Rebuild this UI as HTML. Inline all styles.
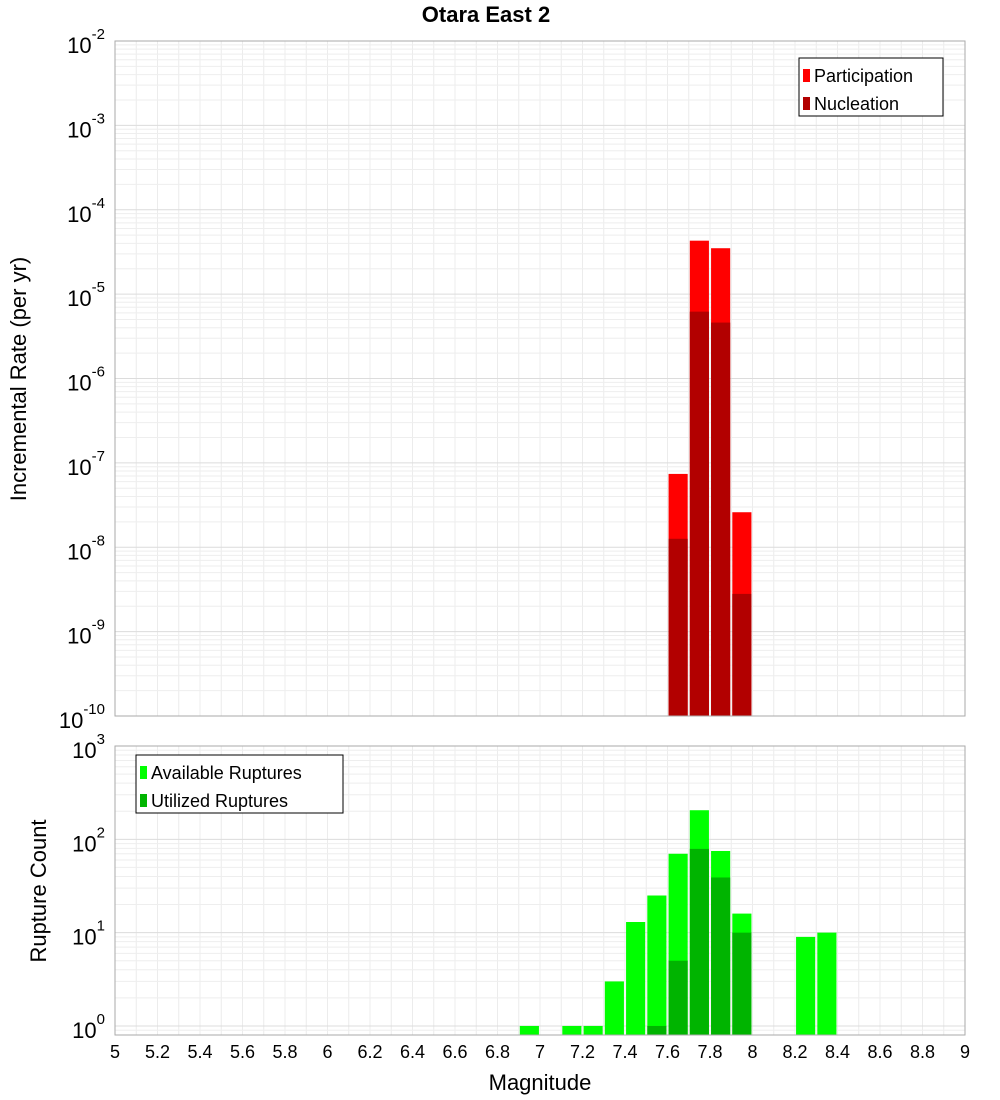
<!DOCTYPE html>
<html><head><meta charset="utf-8"><style>
body{margin:0;background:#fff;}
svg{display:block;font-family:"Liberation Sans","DejaVu Sans",sans-serif;}
</style></head><body>
<svg id="c" width="1000" height="1100"></svg>
<script>
const xTicks=[5,5.2,5.4,5.6,5.8,6,6.2,6.4,6.6,6.8,7,7.2,7.4,7.6,7.8,8,8.2,8.4,8.6,8.8,9];
const rateMags=[7.65,7.75,7.85,7.95];
const participation=[7.4e-8,4.3e-5,3.5e-5,2.6e-8];
const nucleation=[1.26e-8,6.2e-6,4.6e-6,2.8e-9];
const countMags=[6.95,7.15,7.25,7.35,7.45,7.55,7.65,7.75,7.85,7.95,8.25,8.35];
const available=[1,1,1,3,13,25,70,205,75,16,9,10];
const utilMags=[7.55,7.65,7.75,7.85,7.95];
const utilized=[1,5,79,39,10];
const topExps=[-10,-9,-8,-7,-6,-5,-4,-3,-2];
const botExps=[0,1,2,3];

const NS="http://www.w3.org/2000/svg";
const svg=document.getElementById('c');
function el(t,a,p){const e=document.createElementNS(NS,t);for(const k in a)e.setAttribute(k,a[k]);(p||svg).appendChild(e);return e;}
const X0=115,X1=965;
const x=m=>X0+(m-5)/4*(X1-X0);
const T={y0:41,y1:716,lo:-10,hi:-2};
const B={y0:746,y1:1035,lo:Math.log10(0.8),hi:3};
const yS=(P,v)=>P.y1-(Math.log10(v)-P.lo)/(P.hi-P.lo)*(P.y1-P.y0);

function panel(P,name,exps){
  const g=el('g',{});
  
  
  for(let m=5;m<=9.001;m+=0.1){el('line',{x1:x(m),x2:x(m),y1:P.y0,y2:P.y1,stroke:'#ececec','stroke-width':1},g);}
  for(let e=Math.floor(P.lo);e<P.hi;e++){for(let k=1;k<10;k++){const v=k*Math.pow(10,e);const lv=Math.log10(v);if(lv<P.lo||lv>P.hi)continue;const yy=yS(P,v);el('line',{x1:X0,x2:X1,y1:yy,y2:yy,stroke:k==1?'#dcdcdc':'#eeeeee','stroke-width':1},g);}}
  exps.forEach(e=>{const yy=yS(P,Math.pow(10,e));const t=el('text',{x:105,y:yy+12,'text-anchor':'end','font-size':22,fill:'#000'});
    
    t.textContent='10';const s=el('tspan',{dy:-14,'font-size':15},t);s.textContent=String(e);});
}
panel(T,'rate',topExps);
panel(B,'count',botExps);

function bars(P,mags,vals,color,name){
  mags.forEach((m,i)=>{const yt=yS(P,vals[i]);const r=el('rect',{x:x(m-0.045),width:x(m+0.045)-x(m-0.045),y:yt,height:P.y1-yt,fill:color});
    });
}
bars(T,rateMags,participation,'#ff0000','participation-bar');
bars(T,rateMags,nucleation,'#b20000','nucleation-bar');
bars(B,countMags,available,'#00ff00','available-bar');
bars(B,utilMags,utilized,'#00b400','utilized-bar');

[T,B].forEach(P=>{const r=el('rect',{x:X0,y:P.y0,width:X1-X0,height:P.y1-P.y0,fill:'none',stroke:'#aaa'});});

xTicks.forEach(m=>{const t=el('text',{x:x(m),y:1058,'text-anchor':'middle','font-size':18});t.textContent=String(m);});

function txt(s,a,name){const t=el('text',a);t.textContent=s;return t;}
txt('Otara East 2',{x:486,y:22,'text-anchor':'middle','font-size':22,'font-weight':'bold'},'chart-title');
txt('Magnitude',{x:540,y:1090,'text-anchor':'middle','font-size':22},'x-axis-title');
txt('Incremental Rate (per yr)',{x:0,y:0,transform:'translate(26,379) rotate(-90)','text-anchor':'middle','font-size':22},'y-axis-title-top');
txt('Rupture Count',{x:0,y:0,transform:'translate(46,891) rotate(-90)','text-anchor':'middle','font-size':22},'y-axis-title-bottom');

function legend(x0,y0,w,items,name){
  const g=el('g',{});
  el('rect',{x:x0,y:y0,width:w,height:58,fill:'#fff',stroke:'#000'},g);
  items.forEach((it,i)=>{const yy=y0+18+i*28;
    const r=el('rect',{x:x0+4,y:yy-7,width:7,height:13,fill:it[1]},g);
    const t=el('text',{x:x0+15,y:yy+6,'font-size':18},g);t.textContent=it[0];});
}
legend(799,58,144,[['Participation','#ff0000'],['Nucleation','#b20000']],'legend-rate');
legend(136,755,207,[['Available Ruptures','#00ff00'],['Utilized Ruptures','#00b400']],'legend-count');
</script>
</body></html>
